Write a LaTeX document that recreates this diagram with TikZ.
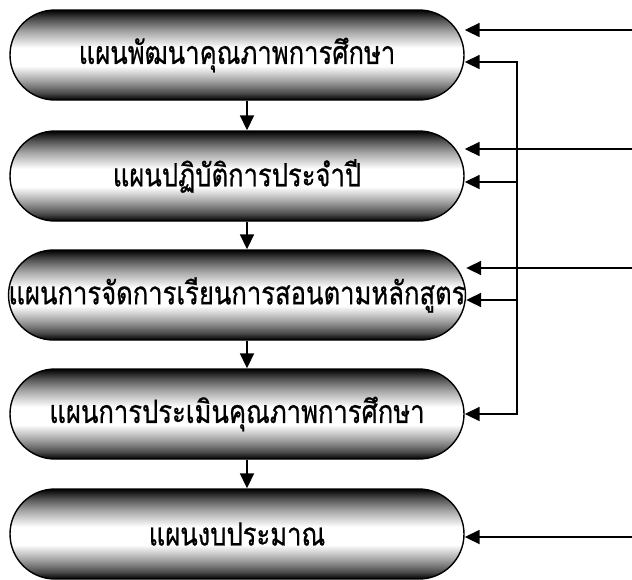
\documentclass[tikz,border=0pt]{standalone}
\usepackage{fontspec}
\newfontfamily\thaifont[Script=Thai,FakeStretch=0.8,FakeBold=0.6]{Loma}
\usetikzlibrary{arrows.meta}
\pgfdeclareverticalshading{metal}{100bp}{%
  color(0bp)=(black); color(25bp)=(black); color(29bp)=(black!70);
  color(36bp)=(black!35); color(44bp)=(white); color(54bp)=(white);
  color(63bp)=(black!35); color(70bp)=(black!70); color(75bp)=(black); color(100bp)=(black)}
\tikzset{
  plan/.style={draw=black, line width=1.4pt, rounded corners=45pt, shading=metal,
    minimum width=454pt, minimum height=90pt, inner sep=0pt,
    font=\thaifont\fontsize{32}{36}\selectfont},
  arr/.style={line width=1.8pt, -{Triangle[length=15pt,width=14pt]}},
  barr/.style={line width=1.8pt, {Triangle[length=15pt,width=14pt]}-{Triangle[length=15pt,width=14pt]}}
}
\begin{document}
\begin{tikzpicture}[x=1pt,y=-1pt]
\useasboundingbox (0,0) rectangle (632,579);
\node[plan] (n1) at (237,55) {แผนพัฒนาคุณภาพการศึกษา};
\node[plan] (n2) at (237,176) {แผนปฏิบัติการประจำปี};
\node[plan] (n3) at (237,295) {แผนการจัดการเรียนการสอนตามหลักสูตร};
\node[plan] (n4) at (237,414) {แผนการประเมินคุณภาพการศึกษา};
\node[plan] (n5) at (237,534) {แผนงบประมาณ};
\foreach \a/\b in {n1/n2,n2/n3,n3/n4,n4/n5}
  \draw[arr] ([xshift=10pt]\a.south) -- ([xshift=10pt]\b.north);
\coordinate (r1) at (632,30);
\coordinate (r2) at (632,149);
\coordinate (r3) at (632,268);
\coordinate (r5) at (632,537);
\draw[arr] (r1) -- (r1 -| n1.east);
\draw[arr] (r2) -- (r2 -| n2.east);
\draw[arr] (r3) -- (r3 -| n3.east);
\draw[arr] (r5) -- (r5 -| n5.east);
\coordinate (bt) at (517,62);
\coordinate (b2) at (517,182);
\coordinate (b3) at (517,300);
\draw[barr] (bt -| n1.east) -- (bt) |- (n4.east);
\draw[arr] (b2) -- (b2 -| n2.east);
\draw[arr] (b3) -- (b3 -| n3.east);
\end{tikzpicture}
\end{document}
